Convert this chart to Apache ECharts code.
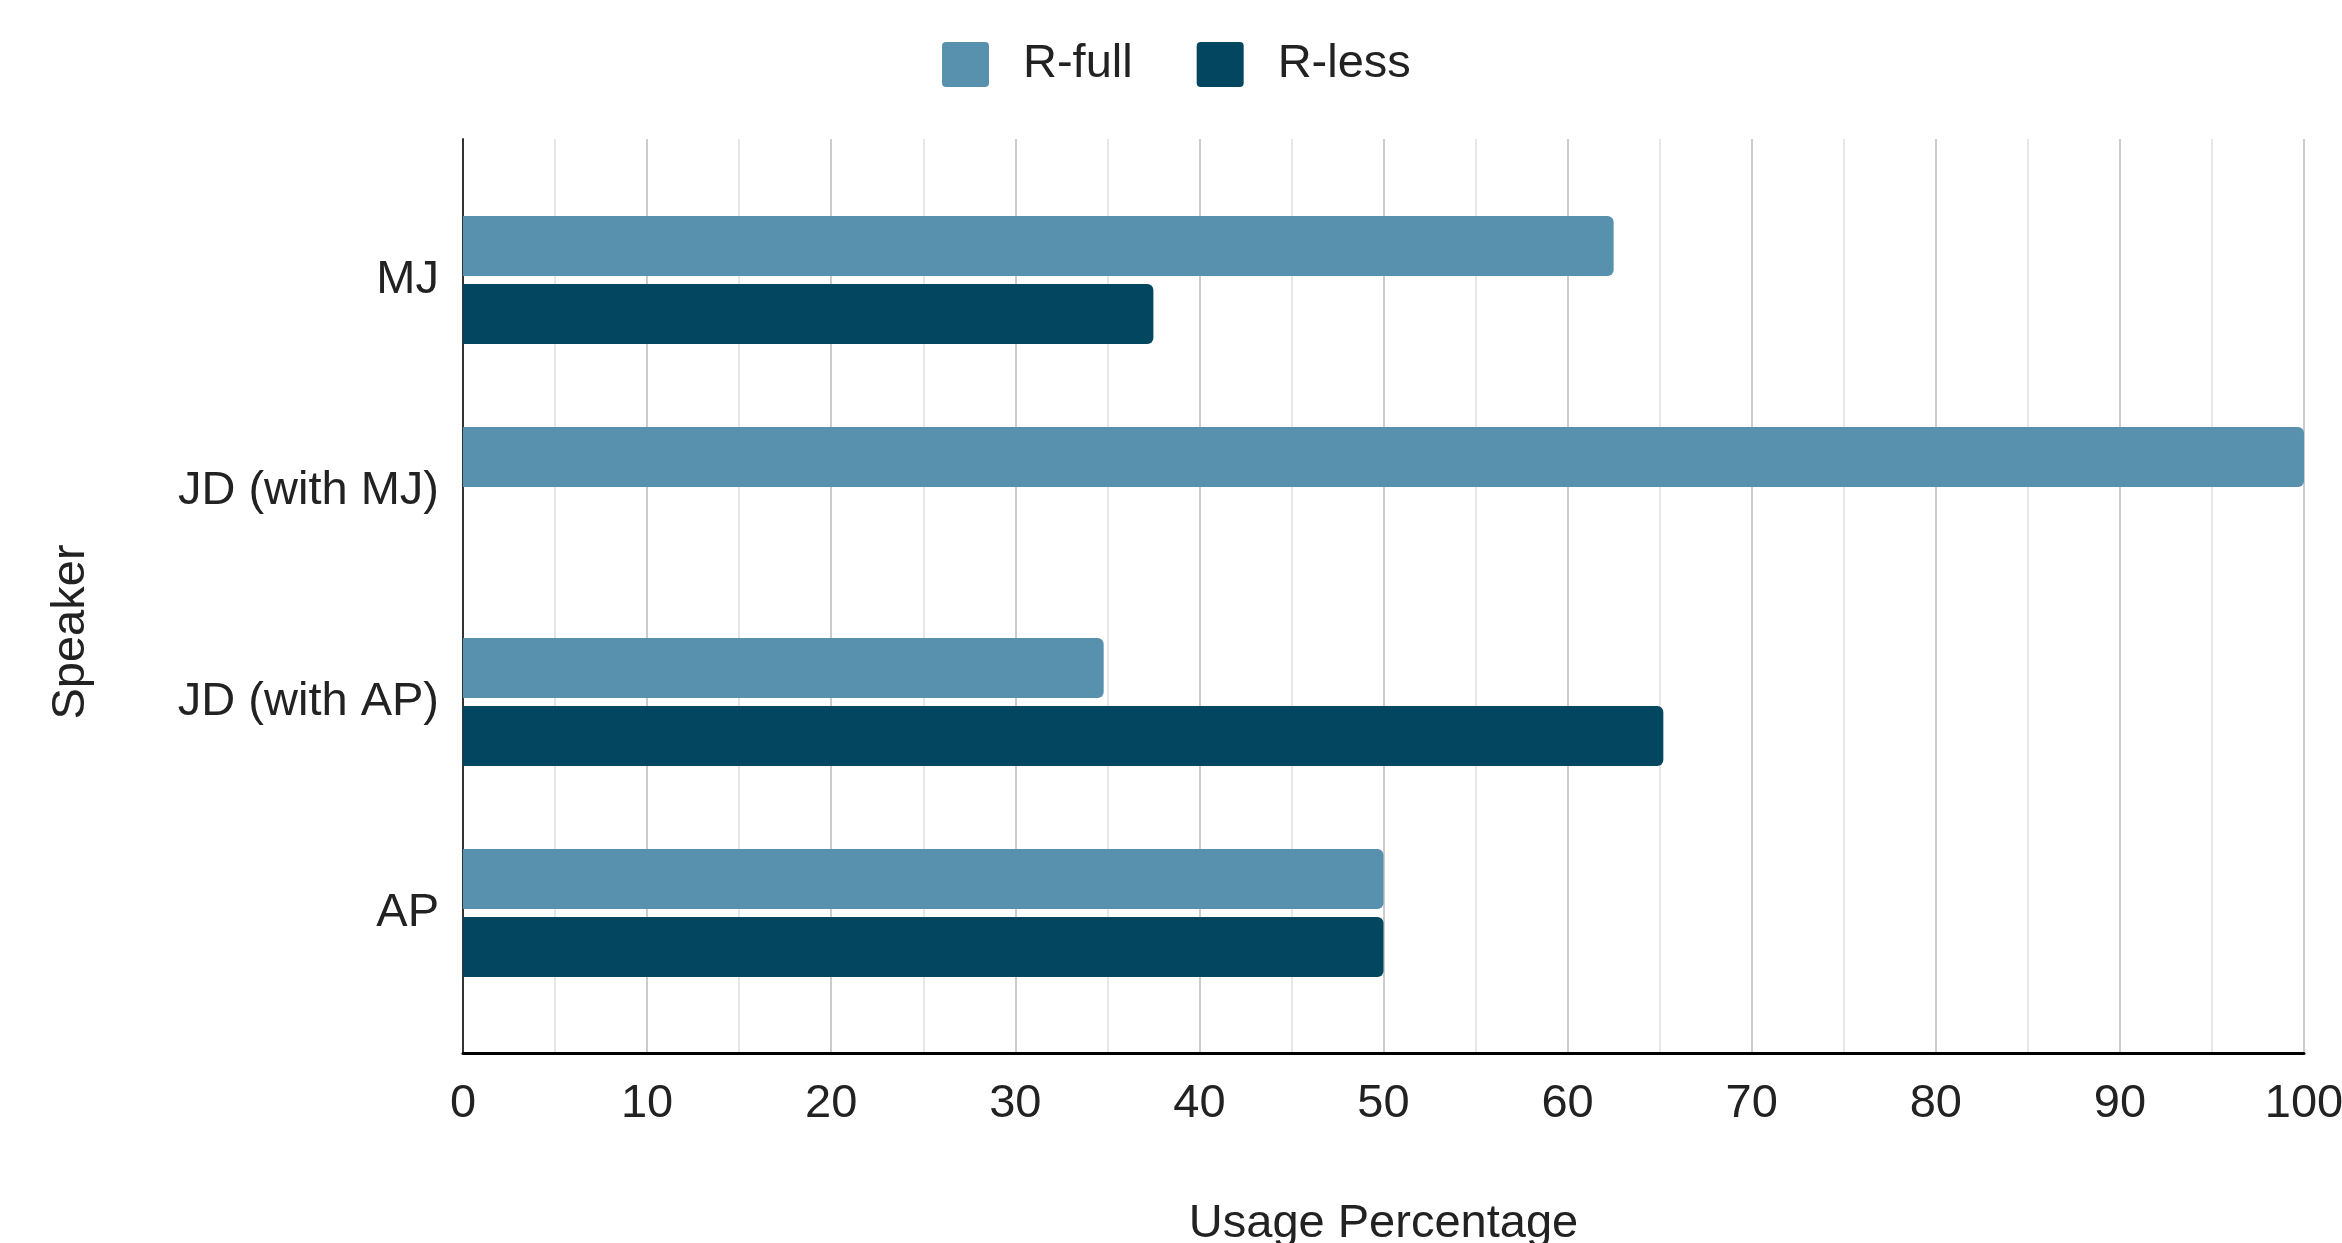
<!DOCTYPE html>
<html>
<head>
<meta charset="utf-8">
<script src="https://cdn.jsdelivr.net/npm/echarts@6/dist/echarts.min.js"></script>
<style>
html,body{margin:0;padding:0;background:#fff;}
#c{width:2342px;height:1243px;}
</style>
</head>
<body>
<div id="c"></div>
<script>
const categories = ['MJ', 'JD (with MJ)', 'JD (with AP)', 'AP'];
const seriesNames = ['R-full', 'R-less'];
const rFull = [62.5, 100, 34.8, 50];
const rLess = [37.5, 0, 65.2, 50];
const xTicks = [0, 10, 20, 30, 40, 50, 60, 70, 80, 90, 100];

const FONT = '"Liberation Sans", Arial, sans-serif';
const TXT = '#222222';
const C_FULL = '#5891AE';
const C_LESS = '#024660';
const FS = 47;

const legendIcon = 'path://M4,0 H43 A4,4 0 0 1 47,4 V41 A4,4 0 0 1 43,45 H4 A4,4 0 0 1 0,41 V4 A4,4 0 0 1 4,0 Z';

const chart = echarts.init(document.getElementById('c'), null, {renderer: 'canvas'});
const option = {
  backgroundColor: '#ffffff',
  textStyle: {fontFamily: FONT},
  animation: false,
  legend: {
    left: 937,
    top: 36,
    itemWidth: 47,
    itemHeight: 45,
    itemGap: 64,
    icon: legendIcon,
    data: seriesNames,
    textStyle: {fontSize: FS, color: TXT, fontFamily: FONT, padding: [0, 0, 0, 29]}
  },
  grid: [
    {left: 463, right: 38, top: 139, bottom: 190, containLabel: false, outerBoundsMode: 'none'},
    {left: 463, right: 38, top: 174.5, bottom: 224.5, containLabel: false, outerBoundsMode: 'none'}
  ],
  xAxis: [
    {
      gridIndex: 0,
      type: 'value',
      min: xTicks[0],
      max: xTicks[xTicks.length - 1],
      interval: 10,
      name: 'Usage Percentage',
      nameLocation: 'middle',
      nameGap: 148,
      nameTextStyle: {fontSize: FS, color: TXT, fontFamily: FONT},
      axisLine: {show: true, onZero: false, lineStyle: {color: '#000000', width: 3}},
      axisTick: {show: false},
      axisLabel: {fontSize: FS, color: TXT, fontFamily: FONT, margin: 28},
      splitLine: {show: true, lineStyle: {color: '#cccccc', width: 2}},
      minorTick: {show: false, splitNumber: 2},
      minorSplitLine: {show: true, lineStyle: {color: '#e6e6e6', width: 2}}
    },
    {
      gridIndex: 1,
      type: 'value',
      min: xTicks[0],
      max: xTicks[xTicks.length - 1],
      show: false
    }
  ],
  yAxis: [
    {
      gridIndex: 0,
      type: 'category',
      data: categories,
      inverse: true,
      name: 'Speaker',
      nameLocation: 'middle',
      nameGap: 368,
      nameRotate: 90,
      nameTextStyle: {fontSize: FS, color: TXT, fontFamily: FONT, padding: [0, 72, 0, 0]},
      axisLine: {show: true, lineStyle: {color: '#333333', width: 2}},
      axisTick: {show: false},
      axisLabel: {show: false},
      splitLine: {show: false}
    },
    {
      gridIndex: 1,
      type: 'category',
      data: categories,
      inverse: true,
      axisLine: {show: false},
      axisTick: {show: false},
      axisLabel: {fontSize: FS, color: TXT, fontFamily: FONT, margin: 24},
      splitLine: {show: false}
    }
  ],
  series: [
    {
      name: seriesNames[0],
      type: 'bar',
      xAxisIndex: 1,
      yAxisIndex: 1,
      data: rFull,
      barWidth: 60,
      barGap: '13%',
      itemStyle: {color: C_FULL, borderRadius: [0, 6, 6, 0]}
    },
    {
      name: seriesNames[1],
      type: 'bar',
      xAxisIndex: 1,
      yAxisIndex: 1,
      data: rLess,
      barWidth: 60,
      barGap: '13%',
      itemStyle: {color: C_LESS, borderRadius: [0, 6, 6, 0]}
    }
  ]
};
chart.setOption(option);
</script>
</body>
</html>
